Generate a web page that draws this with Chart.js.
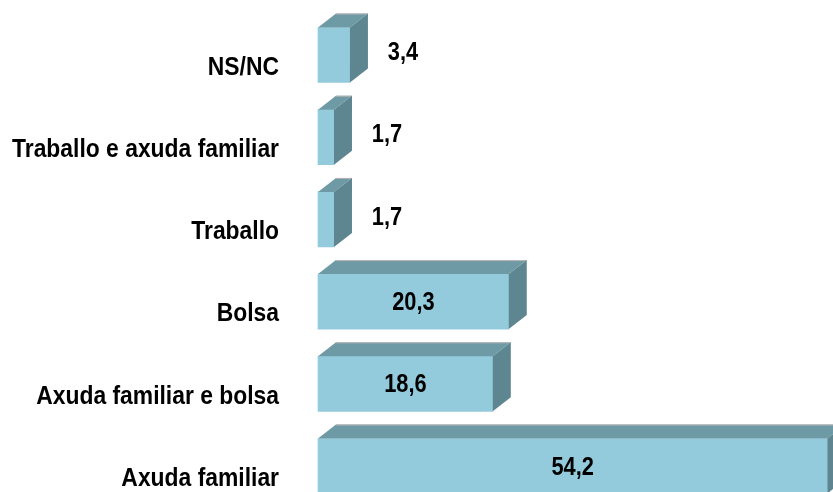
<!DOCTYPE html>
<html>
<head>
<meta charset="utf-8">
<script src="https://cdn.jsdelivr.net/npm/chart.js@4/dist/chart.umd.min.js"></script>
<style>
  html, body { margin: 0; padding: 0; background: #fff; }
  #wrap { width: 833px; height: 492px; position: relative; }
</style>
</head>
<body>
<div id="wrap"><canvas id="myChart"></canvas></div>
<script>
// categories, top to bottom
const categories = ['NS/NC', 'Traballo e axuda familiar', 'Traballo', 'Bolsa', 'Axuda familiar e bolsa', 'Axuda familiar'];
// percentages
const values = [3.4, 1.7, 1.7, 20.3, 18.6, 54.2];

const FONT = "'Liberation Sans', Arial, sans-serif";
const FRONT = '#93cbdc';
const TOP = '#6e9aa5';
const SIDE = '#5e8690';
const DX = 18, DY = 14;

// no narrow font installed, so squeeze text horizontally around an anchor
function narrow(ctx, ax, k, fn) {
  ctx.save();
  ctx.translate(ax, 0);
  ctx.scale(k, 1);
  ctx.translate(-ax, 0);
  fn();
  ctx.restore();
}

// draws the top and side faces of each bar plus the value labels
const box3d = {
  id: 'box3d',
  afterDatasetsDraw(chart) {
    const ctx = chart.ctx;
    const meta = chart.getDatasetMeta(0);
    ctx.save();
    meta.data.forEach((bar, i) => {
      const p = bar.getProps(['x', 'y', 'base', 'height'], true);
      const t = p.y - p.height / 2, b = p.y + p.height / 2;
      // top
      ctx.fillStyle = TOP;
      ctx.beginPath();
      ctx.moveTo(p.base, t);
      ctx.lineTo(p.x, t);
      ctx.lineTo(p.x + DX, t - DY);
      ctx.lineTo(p.base + DX, t - DY);
      ctx.closePath();
      ctx.fill();
      ctx.strokeStyle = '#bcb6b6';
      ctx.lineWidth = 1;
      ctx.beginPath();
      ctx.moveTo(p.base + DX, t - DY + 0.5);
      ctx.lineTo(p.x + DX, t - DY + 0.5);
      ctx.stroke();
      // side
      ctx.fillStyle = SIDE;
      ctx.beginPath();
      ctx.moveTo(p.x, t);
      ctx.lineTo(p.x + DX, t - DY);
      ctx.lineTo(p.x + DX, b - DY);
      ctx.lineTo(p.x, b);
      ctx.closePath();
      ctx.fill();

      // value label
      const txt = values[i].toFixed(1).replace('.', ',');
      ctx.fillStyle = '#000';
      ctx.font = 'bold 26px ' + FONT;
      ctx.textAlign = 'center';
      ctx.textBaseline = 'middle';
      const lx = values[i] > 10 ? (p.base + p.x) / 2 : p.x + 53;
      const ly = values[i] > 10 ? p.y + 1.5 : p.y - 2;
      narrow(ctx, lx, 0.84, () => ctx.fillText(txt, lx, ly));
    });
    ctx.restore();
  }
};

const ctx = document.getElementById('myChart').getContext('2d');
const myChart = new Chart(ctx, {
  type: 'bar',
  data: {
    labels: categories,
    datasets: [{
      data: values,
      backgroundColor: FRONT,
      borderWidth: 0,
      barThickness: 55,
      clip: false
    }]
  },
  options: {
    indexAxis: 'y',
    responsive: true,
    maintainAspectRatio: false,
    animation: false,
    layout: { padding: { top: 55, bottom: 26, left: 0, right: 0 } },
    plugins: {
      legend: { display: false },
      tooltip: { enabled: false }
    },
    scales: {
      x: {
        display: false,
        min: 0,
        max: 54.8
      },
      y: {
        offset: false,
        grid: { display: false, drawTicks: false },
        border: { display: false },
        afterFit: (scale) => {
          scale.width = 318;
          scale.paddingTop = 0;
          scale.paddingBottom = 0;
          if (!scale._narrowed) {
            scale._narrowed = true;
            const base = Object.getPrototypeOf(scale).drawLabels;
            // label clip box would be squeezed too, so skip it
            scale._computeLabelArea = () => undefined;
            scale.drawLabels = function (area) {
              const ax = this.right - this.options.ticks.padding;
              narrow(this.ctx, ax, 0.915, () => base.call(this, area));
            };
          }
        },
        ticks: {
          autoSkip: false,
          padding: 39,
          labelOffset: 13,
          color: '#000',
          font: { family: FONT, size: 25, weight: 'bold' }
        }
      }
    }
  },
  plugins: [box3d]
});
</script>
</body>
</html>
